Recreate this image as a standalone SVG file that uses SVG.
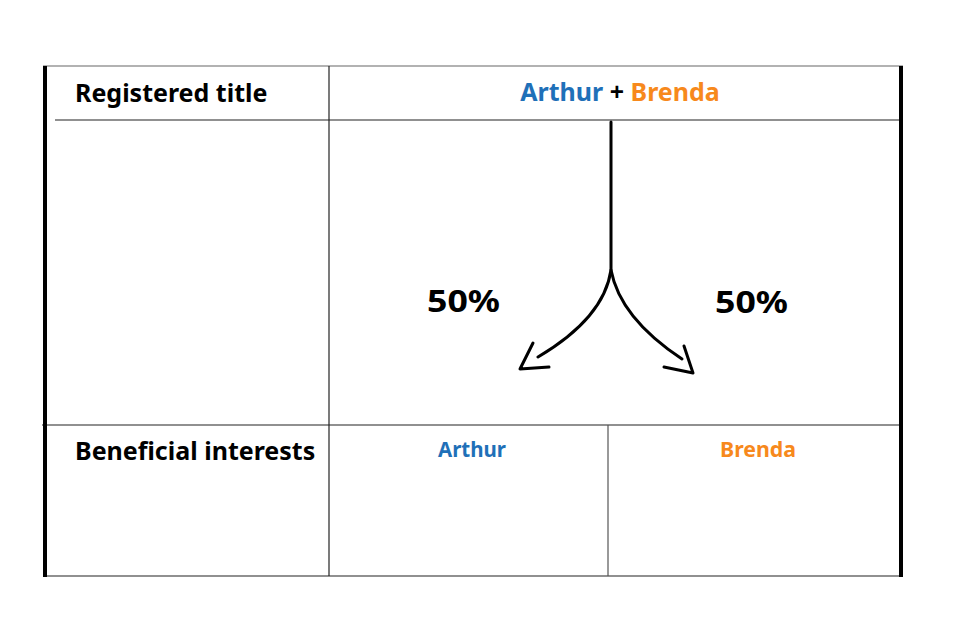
<svg xmlns="http://www.w3.org/2000/svg" width="960" height="640" viewBox="0 0 960 640">
<style>
.lbl{font-family:"Noto Sans","DejaVu Sans",sans-serif;font-weight:bold;fill:#000}
.thin{stroke:#222;stroke-width:1.2;fill:none}
.thick{stroke:#000;stroke-width:4;fill:none}
.arr{stroke:#000;stroke-width:3;fill:none;stroke-linecap:round;stroke-linejoin:round}
.blue{fill:#1f70b8}
.orange{fill:#f7891c}
</style>
<rect width="960" height="640" fill="#fff"/>
<g id="table">
<line class="thin" x1="43" y1="66" x2="903" y2="66" style="stroke:#666"/>
<line class="thin" x1="55" y1="120" x2="900" y2="120"/>
<line class="thin" x1="42" y1="425" x2="900" y2="425"/>
<line class="thin" x1="43" y1="576" x2="903" y2="576"/>
<line class="thin" x1="329" y1="66" x2="329" y2="576"/>
<line class="thin" x1="608" y1="425" x2="608" y2="576" style="stroke:#555"/>
<line class="thick" x1="45" y1="66" x2="45" y2="577"/>
<line class="thick" x1="901" y1="66" x2="901" y2="577"/>
</g>
<g id="row-title">
<text class="lbl" x="75" y="102" font-size="25">Registered title</text>
<text class="lbl" x="620" y="101" font-size="25" text-anchor="middle"><tspan class="blue">Arthur</tspan> + <tspan class="orange">Brenda</tspan></text>
</g>
<g id="row-benefit">
<text class="lbl" x="75" y="460" font-size="25">Beneficial interests</text>
<text class="lbl blue" x="472" y="457" font-size="20.5" text-anchor="middle">Arthur</text>
<text class="lbl orange" x="758" y="457" font-size="21.3" text-anchor="middle">Brenda</text>
</g>
<g id="connectors">
<path class="arr" d="M611,122 L611,270 Q604,318 538,357"/>
<path class="arr" d="M533,343 L520,369 L549,367"/>
<path class="arr" d="M611,270 Q620,318 682,359"/>
<path class="arr" d="M684,346 L693,373 L664,367"/>
</g>
<g id="labels">
<text class="lbl" x="427" y="312" font-size="31" textLength="73" lengthAdjust="spacingAndGlyphs">50%</text>
<text class="lbl" x="715" y="313" font-size="31" textLength="73" lengthAdjust="spacingAndGlyphs">50%</text>
</g>
</svg>
